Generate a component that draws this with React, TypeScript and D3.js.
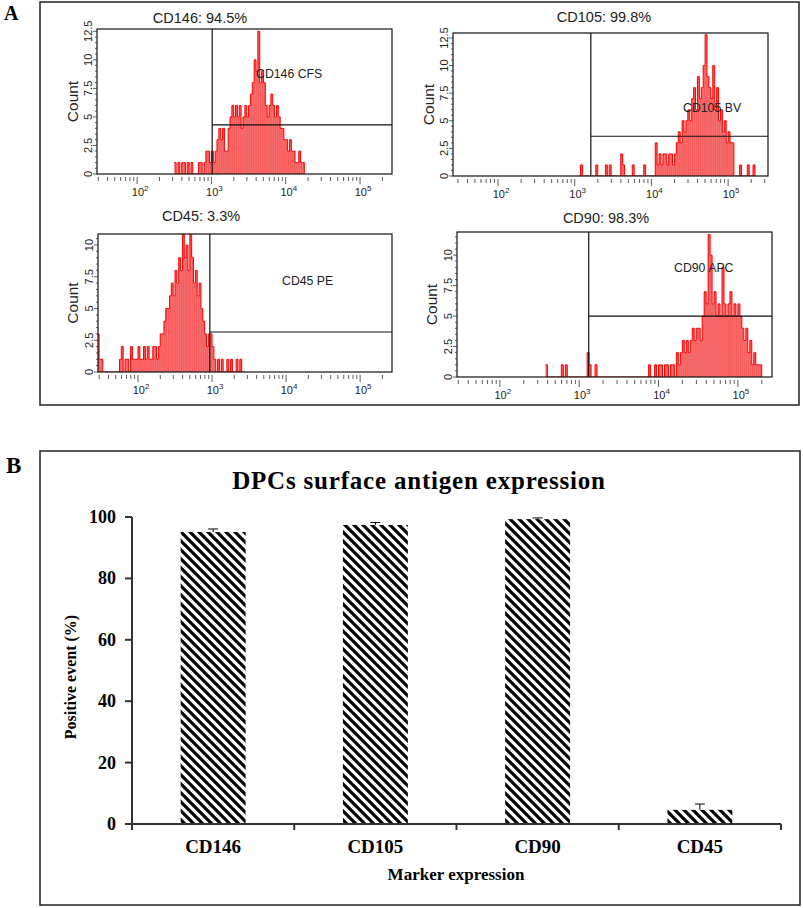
import * as d3 from "d3";
import React, { useEffect, useRef } from "react";

// histogram channels are 0.025 decade wide
const BIN_STEP = 0.025;

const histTitles = ["CD146: 94.5%", "CD105: 99.8%", "CD45: 3.3%", "CD90: 98.3%"];
const histTags = ["CD146 CFS", "CD105 BV", "CD45 PE", "CD90 APC"];
const histStarts = [2.5, 3.05, 1.45, 2.575];
const gateLogs = [3.01, 3.21, 2.97, 3.12];
const gateLevels = [4.3, 3.6, 3.15, 5.0];
const countTicks = [0, 2.5, 5, 7.5, 10, 12.5];
const decadeTicks = [2, 3, 4, 5];

const cd146Counts = [
  1, 0, 1, 0, 1, 1, 0, 1, 0, 1,
  0, 0, 0, 1, 1, 0, 1, 2, 2, 1,
  2, 1, 2, 3, 4, 3, 4, 2, 2, 4,
  5, 6, 5, 6, 5, 6, 4, 5, 6, 5,
  6, 7, 8, 10, 9, 12.5, 8, 9, 8, 6,
  5, 6, 7, 6, 5, 6, 5, 4, 4, 3,
  3, 2, 3, 2, 2, 1, 1, 2, 1, 1,
];

const cd105Counts = [
  0, 1, 0, 0, 0, 0, 0, 0, 0, 1,
  0, 0, 0, 0, 1, 0, 1, 0, 0, 0,
  0, 0, 2, 1, 0, 0, 0, 0, 1, 0,
  0, 0, 0, 0, 1, 0, 0, 0, 0, 0,
  3, 1, 2, 1, 2, 2, 1, 2, 2, 1,
  2, 3, 4, 3, 5, 4, 5, 6, 5, 7,
  8, 6, 9, 7, 8, 10, 12.8, 9, 8, 7,
  10, 6, 8, 5, 6, 4, 5, 3, 4, 3,
  3, 0, 0, 0, 1, 0, 0, 0, 1, 0,
  0, 1,
];

const cd45Counts = [
  3, 1, 1, 0, 0, 0, 0, 0, 0, 0,
  0, 0, 1, 2, 0, 1, 1, 0, 2, 1,
  1, 1, 2, 1, 1, 2, 1, 2, 1, 1,
  2, 2, 1, 2, 3, 3, 4, 5, 5, 6,
  7, 6, 8, 7, 9, 8, 11, 9, 10, 8,
  11, 9, 7, 8, 6, 7, 5, 4, 3, 2,
  3, 3, 2, 1, 0, 1, 0, 1, 0, 0,
  1, 0, 1, 0, 0, 1, 0, 1, 0, 0,
];

const cd90Counts = [
  1, 0, 0, 0, 0, 0, 0, 0, 1, 0,
  1, 0, 0, 0, 0, 0, 0, 0, 0, 0,
  0, 2, 1, 0, 0, 1, 0, 0, 0, 0,
  0, 0, 0, 0, 0, 0, 0, 0, 0, 0,
  0, 0, 0, 0, 0, 0, 0, 0, 0, 0,
  0, 0, 1, 0, 0, 1, 0, 1, 1, 0,
  1, 1, 0, 1, 1, 0, 2, 1, 2, 3,
  2, 3, 2, 3, 4, 3, 4, 4, 3, 5,
  7, 6, 11.7, 10, 6, 7, 5, 6, 5, 9,
  6, 5, 6, 7, 5, 6, 5, 6, 5, 4,
  3, 4, 2, 3, 1, 2, 1, 1, 1,
];

const barMarkers = ["CD146", "CD105", "CD90", "CD45"];
const barMeans = [95.1, 97.4, 99.3, 4.6];
const barErrors = [1.0, 0.8, 0.4, 1.9];
const barTicks = [0, 20, 40, 60, 80, 100];

const SANS = "'Liberation Sans', Arial, sans-serif";
const SERIF = "'Liberation Serif', 'Times New Roman', serif";

// panel boxes (pixels) for the four histograms
const histLayout = [
  { left: 97, right: 392, top: 29, bottom: 174, lo: 1.46, hi: 5.43, ymax: 12.7, titleX: 200, titleY: 23, tagX: 256, tagY: 78, countX: 72 },
  { left: 453, right: 768, top: 33, bottom: 176, lo: 1.413, hi: 5.52, ymax: 12.95, titleX: 604, titleY: 22, tagX: 683, tagY: 112, countX: 428 },
  { left: 98, right: 392, top: 234, bottom: 372, lo: 1.46, hi: 5.43, ymax: 10.87, titleX: 201, titleY: 221, tagX: 282, tagY: 285, countX: 72 },
  { left: 457, right: 772, top: 232, bottom: 377, lo: 1.46, hi: 5.43, ymax: 11.9, titleX: 606, titleY: 223, tagX: 674, tagY: 272, countX: 431 },
];
const histCounts = [cd146Counts, cd105Counts, cd45Counts, cd90Counts];

const App = () => {
  const ref = useRef<SVGSVGElement | null>(null);

  useEffect(() => {
    const svg = d3.select(ref.current);
    svg.selectAll("*").remove();

    const defs = svg.append("defs");
    const pat = defs
      .append("pattern")
      .attr("id", "hatch")
      .attr("patternUnits", "userSpaceOnUse")
      .attr("width", 9)
      .attr("height", 9);
    pat
      .append("path")
      .attr("d", "M-2,-2L11,11M-2,7L2,11M7,-2L11,2")
      .attr("stroke", "#000")
      .attr("stroke-width", 3.2);

    // outer frames
    svg.append("rect").attr("x", 40).attr("y", 2).attr("width", 759).attr("height", 403)
      .attr("fill", "none").attr("stroke", "#222").attr("stroke-width", 1.5);
    svg.append("rect").attr("x", 40).attr("y", 451).attr("width", 760).attr("height", 454)
      .attr("fill", "none").attr("stroke", "#222").attr("stroke-width", 1.5);

    svg.append("text").attr("x", 4).attr("y", 20).attr("font-family", SERIF)
      .attr("font-weight", "bold").attr("font-size", 20).text("A");
    svg.append("text").attr("x", 6).attr("y", 473).attr("font-family", SERIF)
      .attr("font-weight", "bold").attr("font-size", 23).text("B");

    // ---- histograms ----
    histLayout.forEach((p, k) => {
      const counts = histCounts[k];
      const start = histStarts[k];
      const g = svg.append("g");
      const x = d3.scaleLog().domain([10 ** p.lo, 10 ** p.hi]).range([p.left, p.right]);
      const y = d3.scaleLinear().domain([0, p.ymax]).range([p.bottom, p.top]);

      const pts = counts.map((c, i) => ({ v: 10 ** (start + i * BIN_STEP), c }));
      pts.push({ v: 10 ** (start + counts.length * BIN_STEP), c: 0 });

      const clipId = `clip${k}`;
      defs.append("clipPath").attr("id", clipId).append("rect")
        .attr("x", p.left).attr("y", p.top)
        .attr("width", p.right - p.left).attr("height", p.bottom - p.top);

      const area = d3.area<{ v: number; c: number }>()
        .x((d) => x(d.v))
        .y0(p.bottom)
        .y1((d) => y(d.c))
        .curve(d3.curveStepAfter);
      const line = d3.line<{ v: number; c: number }>()
        .x((d) => x(d.v))
        .y((d) => y(d.c))
        .curve(d3.curveStepAfter);

      const hg = g.append("g").attr("clip-path", `url(#${clipId})`);
      hg.append("path").attr("d", area(pts)!).attr("fill", "#f67474");
      // channel strokes give the spiky texture of the cytometer plot
      hg.selectAll("line.ch")
        .data(pts.filter((d) => d.c > 0))
        .enter()
        .append("line")
        .attr("x1", (d) => x(d.v) + 0.9)
        .attr("x2", (d) => x(d.v) + 0.9)
        .attr("y1", p.bottom)
        .attr("y2", (d) => y(d.c))
        .attr("stroke", "#f22")
        .attr("stroke-opacity", 0.55)
        .attr("stroke-width", 0.6);
      hg.append("path").attr("d", line(pts)!).attr("fill", "none")
        .attr("stroke", "#ff0000").attr("stroke-width", 1);

      // gates
      const gx = x(10 ** gateLogs[k]);
      g.append("line").attr("x1", gx).attr("x2", gx).attr("y1", p.top).attr("y2", p.bottom)
        .attr("stroke", "#111").attr("stroke-width", 1.2);
      g.append("line").attr("x1", gx).attr("x2", p.right)
        .attr("y1", y(gateLevels[k])).attr("y2", y(gateLevels[k]))
        .attr("stroke", "#111").attr("stroke-width", 1.2);

      g.append("rect").attr("x", p.left).attr("y", p.top)
        .attr("width", p.right - p.left).attr("height", p.bottom - p.top)
        .attr("fill", "none").attr("stroke", "#111").attr("stroke-width", 1.2);

      // y ticks
      const minor = d3.range(0, p.ymax, 0.5);
      minor.forEach((t) => {
        const major = Math.abs(t / 2.5 - Math.round(t / 2.5)) < 1e-6;
        g.append("line").attr("x1", p.left - (major ? 4 : 2)).attr("x2", p.left)
          .attr("y1", y(t)).attr("y2", y(t)).attr("stroke", "#333").attr("stroke-width", 0.8);
      });
      countTicks.filter((t) => t <= p.ymax).forEach((t) => {
        g.append("text")
          .attr("transform", `translate(${p.left - 5},${y(t)}) rotate(-90)`)
          .attr("text-anchor", "middle")
          .attr("font-family", SANS)
          .attr("font-size", 11)
          .attr("fill", "#222")
          .text(String(t));
      });

      // log x ticks
      for (let e = 1; e <= 5; e++) {
        for (let m = 1; m <= 9; m++) {
          const v = m * 10 ** e;
          if (v < 10 ** p.lo || v > 10 ** p.hi) continue;
          const tx = x(v);
          g.append("line").attr("x1", tx).attr("x2", tx)
            .attr("y1", p.bottom + 3).attr("y2", p.bottom + (m === 1 ? 10 : 7))
            .attr("stroke", "#333").attr("stroke-width", 0.8);
        }
      }
      decadeTicks.forEach((e) => {
        const t = g.append("text")
          .attr("x", x(10 ** e) + 3)
          .attr("y", p.bottom + 22)
          .attr("text-anchor", "middle")
          .attr("font-family", SANS)
          .attr("font-size", 11)
          .attr("fill", "#222");
        t.append("tspan").text("10");
        t.append("tspan").attr("dy", -5).attr("font-size", 8).text(String(e));
      });

      g.append("text")
        .attr("transform", `translate(${p.countX + 6},${(p.top + p.bottom) / 2}) rotate(-90)`)
        .attr("text-anchor", "middle")
        .attr("font-family", SANS)
        .attr("font-size", 15.5)
        .attr("fill", "#222")
        .text("Count");

      g.append("text").attr("x", p.titleX).attr("y", p.titleY)
        .attr("text-anchor", "middle").attr("font-family", SANS)
        .attr("font-size", 14.5).attr("fill", "#222").text(histTitles[k]);

      g.append("text").attr("x", p.tagX).attr("y", p.tagY)
        .attr("font-family", SANS).attr("font-size", 12.3)
        .attr("fill", "#222").text(histTags[k]);
    });

    // ---- bar chart ----
    const bx = d3.scaleBand<string>().domain(barMarkers).range([132, 781])
      .paddingInner(0.6).paddingOuter(0.3);
    const by = d3.scaleLinear().domain([0, 100]).range([824, 517]);
    const b = svg.append("g");

    b.append("text").attr("x", 419).attr("y", 489).attr("text-anchor", "middle")
      .attr("font-family", SERIF).attr("font-weight", "bold").attr("font-size", 25)
      .attr("letter-spacing", 0.8)
      .text("DPCs surface antigen expression");

    barMarkers.forEach((m, i) => {
      b.append("rect").attr("x", bx(m)!).attr("y", by(barMeans[i]))
        .attr("width", bx.bandwidth()).attr("height", by(0) - by(barMeans[i]))
        .attr("fill", "url(#hatch)");
      const cx = bx(m)! + bx.bandwidth() / 2;
      const top = by(barMeans[i] + barErrors[i]);
      b.append("line").attr("x1", cx).attr("x2", cx).attr("y1", by(barMeans[i])).attr("y2", top)
        .attr("stroke", "#000").attr("stroke-width", 1);
      b.append("line").attr("x1", cx - 5).attr("x2", cx + 5).attr("y1", top).attr("y2", top)
        .attr("stroke", "#000").attr("stroke-width", 1);
      b.append("text").attr("x", cx).attr("y", 853).attr("text-anchor", "middle")
        .attr("font-family", SERIF).attr("font-weight", "bold").attr("font-size", 19)
        .text(m);
    });

    // axes
    b.append("line").attr("x1", 132).attr("x2", 132).attr("y1", by(100)).attr("y2", by(0) + 6)
      .attr("stroke", "#333").attr("stroke-width", 2);
    b.append("line").attr("x1", 132).attr("x2", 781).attr("y1", by(0)).attr("y2", by(0))
      .attr("stroke", "#333").attr("stroke-width", 2);
    barMarkers.forEach((m) => {
      const ex = bx(m)! + bx.bandwidth() / 2 + bx.step() / 2;
      b.append("line").attr("x1", ex).attr("x2", ex).attr("y1", by(0)).attr("y2", by(0) + 6)
        .attr("stroke", "#333").attr("stroke-width", 2);
    });
    barTicks.forEach((t) => {
      b.append("line").attr("x1", 125).attr("x2", 132).attr("y1", by(t)).attr("y2", by(t))
        .attr("stroke", "#333").attr("stroke-width", 2);
      b.append("text").attr("x", 116).attr("y", by(t) + 6).attr("text-anchor", "end")
        .attr("font-family", SERIF).attr("font-weight", "bold").attr("font-size", 18)
        .text(String(t));
    });

    b.append("text").attr("x", 456).attr("y", 880).attr("text-anchor", "middle")
      .attr("font-family", SERIF).attr("font-weight", "bold").attr("font-size", 17)
      .text("Marker expression");
    b.append("text")
      .attr("transform", "translate(76,677) rotate(-90)")
      .attr("text-anchor", "middle")
      .attr("font-family", SERIF).attr("font-weight", "bold").attr("font-size", 16)
      .text("Positive event (%)");
  }, []);

  return (
    <svg
      ref={ref}
      width={803}
      height={908}
      style={{ position: "absolute", left: 0, top: 0, background: "#fff" }}
    />
  );
};

export default App;
